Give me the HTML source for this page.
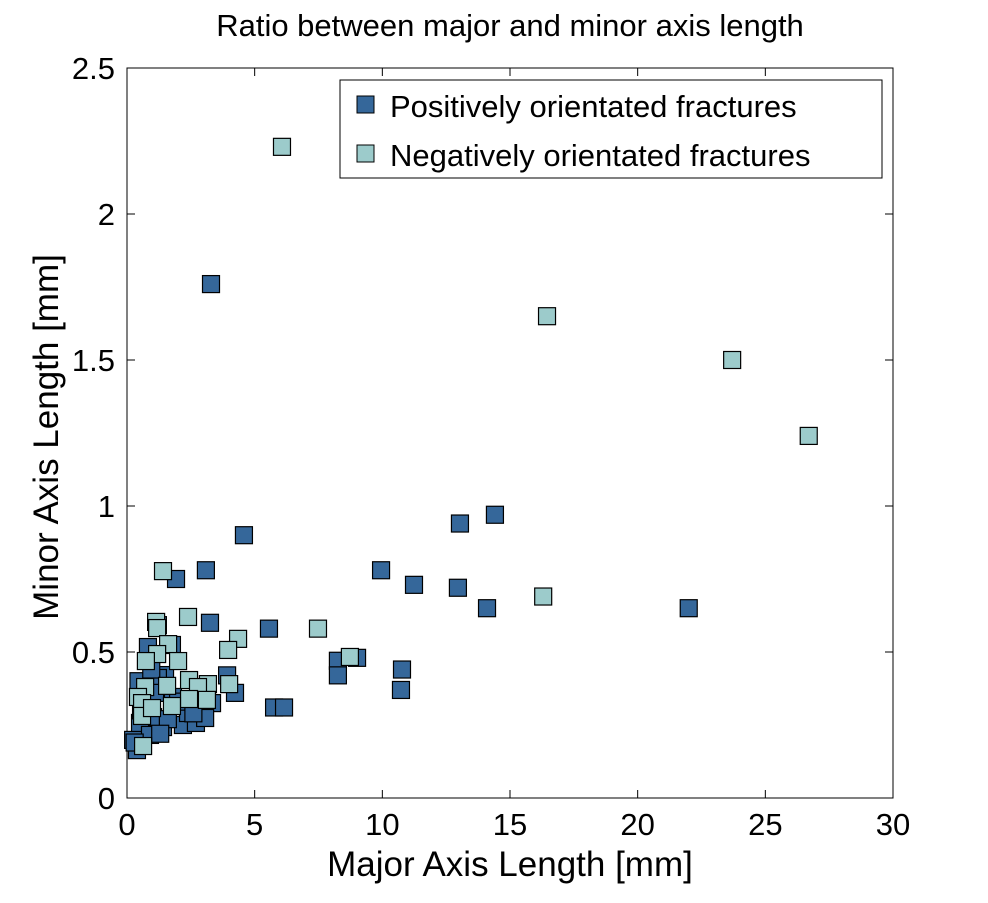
<!DOCTYPE html>
<html><head><meta charset="utf-8"><style>
body{margin:0;background:#fff;}
svg text{font-family:"Liberation Sans",sans-serif;fill:#000;}
</style></head><body>
<svg id="chart" width="988" height="898" xmlns="http://www.w3.org/2000/svg"></svg>
<script>
const xTicks=[0,5,10,15,20,25,30];
const yTicks=[0,0.5,1,1.5,2,2.5];
const xTickLabels=["0","5","10","15","20","25","30"];
const yTickLabels=["0","0.5","1","1.5","2","2.5"];
const posX=[3.29,4.58,3.09,1.92,3.25,5.56,9.95,11.24,12.96,13.04,14.41,14.1,22.0,8.26,8.26,9.01,10.77,10.73,5.76,6.15,4.23,3.92,2.19,2.70,3.33,1.49,0.82,1.76,1.21,0.71,0.24,0.39,1.41,2.39,1.02,0.51,1.80,1.21,0.90,3.06,0.3,0.55,1.1,1.6,2.0,2.6,0.45,0.95,1.3];
const posY=[1.76,0.90,0.78,0.75,0.60,0.58,0.78,0.73,0.72,0.94,0.97,0.65,0.65,0.47,0.42,0.48,0.44,0.37,0.31,0.31,0.36,0.42,0.25,0.257,0.325,0.421,0.517,0.524,0.592,0.223,0.199,0.164,0.243,0.291,0.277,0.257,0.346,0.411,0.216,0.274,0.19,0.30,0.36,0.27,0.33,0.29,0.40,0.44,0.22];
const negX=[6.07,16.45,23.7,26.7,16.3,7.48,1.41,2.39,1.14,1.18,1.61,4.35,3.96,8.73,1.18,0.74,2.0,2.43,3.17,2.78,4.0,1.57,0.71,0.43,2.43,3.13,1.76,0.59,0.59,0.98,0.63];
const negY=[2.23,1.65,1.50,1.24,0.69,0.58,0.777,0.62,0.603,0.582,0.527,0.545,0.507,0.483,0.493,0.469,0.469,0.404,0.39,0.38,0.39,0.384,0.38,0.346,0.339,0.336,0.315,0.325,0.281,0.308,0.178];
const L=127,R=893,T=68,B=798;
const sx=v=>L+(v-0)/(30-0)*(R-L);
const sy=v=>B-(v-0)/(2.5-0)*(B-T);
const svg=document.getElementById('chart');
const NS='http://www.w3.org/2000/svg';
function mk(tag,at,txt){const e=document.createElementNS(NS,tag);for(const k in at)e.setAttribute(k,at[k]);if(txt!==undefined)e.textContent=txt;svg.appendChild(e);return e;}
let e;
e=mk('rect',{x:L,y:T,width:R-L,height:B-T,fill:'#fff',stroke:'#000','stroke-width':1});


xTicks.forEach((t,i)=>{
 e=mk('line',{x1:sx(t),x2:sx(t),y1:B,y2:B-8,stroke:'#000'});
 
 
 e=mk('line',{x1:sx(t),x2:sx(t),y1:T,y2:T+8,stroke:'#000'});
 
 
 e=mk('text',{x:sx(t),y:B+37,'font-size':31,'text-anchor':'middle'},xTickLabels[i]);
 
 
});
yTicks.forEach((t,i)=>{
 e=mk('line',{x1:L,x2:L+8,y1:sy(t),y2:sy(t),stroke:'#000'});
 
 
 e=mk('line',{x1:R,x2:R-8,y1:sy(t),y2:sy(t),stroke:'#000'});
 
 
 e=mk('text',{x:L-12,y:sy(t)+11,'font-size':31,'text-anchor':'end'},yTickLabels[i]);
 
 
});
function marker(x,y,fill,name){
 e=mk('rect',{x:sx(x)-8.5,y:sy(y)-8.5,width:17,height:17,fill:fill,stroke:'#000','stroke-width':1.2});
 
 
}
posX.forEach((x,i)=>marker(x,posY[i],'#35679a','positive-point'));
negX.forEach((x,i)=>marker(x,negY[i],'#9ccbcb','negative-point'));
e=mk('text',{x:510,y:36,'font-size':31,'text-anchor':'middle'},'Ratio between major and minor axis length');


e=mk('text',{x:510,y:876,'font-size':35,'text-anchor':'middle'},'Major Axis Length [mm]');


e=mk('text',{x:58,y:437,'font-size':35,'text-anchor':'middle',transform:'rotate(-90 58 437)'},'Minor Axis Length [mm]');


e=mk('rect',{x:340,y:80,width:542,height:98,fill:'#fff',stroke:'#000'});


e=mk('rect',{x:357,y:96,width:17,height:17,fill:'#35679a',stroke:'#000'});


e=mk('text',{x:390,y:117,'font-size':31},'Positively orientated fractures');


e=mk('rect',{x:357,y:145,width:17,height:17,fill:'#9ccbcb',stroke:'#000'});


e=mk('text',{x:390,y:166,'font-size':31},'Negatively orientated fractures');


</script>
</body></html>
